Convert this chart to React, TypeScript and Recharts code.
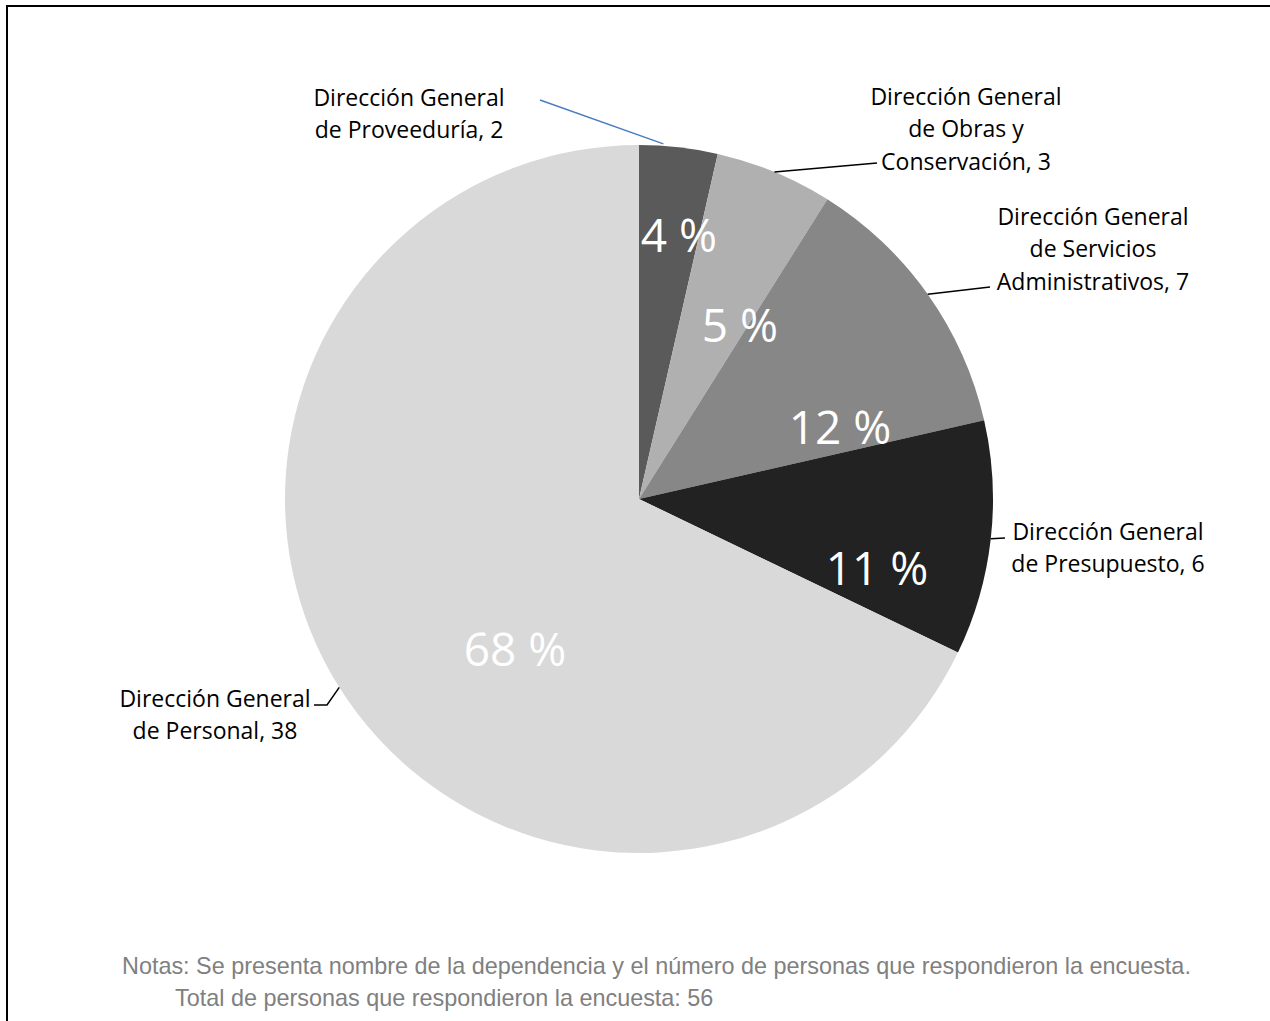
import React from "react";
import { PieChart, Pie, Cell } from "recharts";

const categories = [
  "Dirección General de Proveeduría",
  "Dirección General de Obras y Conservación",
  "Dirección General de Servicios Administrativos",
  "Dirección General de Presupuesto",
  "Dirección General de Personal",
];
const values = [2, 3, 7, 6, 38];
const percentLabels = ["4 %", "5 %", "12 %", "11 %", "68 %"];
const nameLines = [
  ["Dirección General", "de Proveeduría, 2"],
  ["Dirección General", "de Obras y", "Conservación, 3"],
  ["Dirección General", "de Servicios", "Administrativos, 7"],
  ["Dirección General", "de Presupuesto, 6"],
  ["Dirección General", "de Personal, 38"],
];
const notes = [
  "Notas: Se presenta nombre de la dependencia y el número de personas que respondieron la encuesta.",
  "Total de personas que respondieron la encuesta: 56",
];

const COLORS = ["#5a5a5a", "#b0b0b0", "#878787", "#222222", "#d9d9d9"];

// label layout, offsets from pie center (px)
const PCT_OFFSET = [
  [40, -265],
  [101, -175],
  [201, -73],
  [238, 68],
  [-124, 149],
];
const TEXT_CENTER = [
  [-230, -386],
  [327, -371],
  [454, -251],
  [469, 48],
  [-424, 215],
];
const LEADER_ANGLE_SHIFT = [2.5, 0, 0, 0, 0];
const LEADER_RADIUS_EXTRA = [2, 0, 0, 0, 0];
const LEADER_POINTS = [
  [[-99, -399]],
  [[238, -336]],
  [[351, -212]],
  [[366, 39]],
  [[-312, 206], [-325, 206]],
];
const LEADER_COLORS = ["#4a7cc0", "#000", "#000", "#000", "#000"];

const data = categories.map((name, i) => ({ name, value: values[i] }));

const RAD = Math.PI / 180;
const FONT = "'Open Sans', Carlito, Lato, sans-serif";

const renderLabel = (props: any) => {
  const { cx, cy, midAngle, outerRadius, index } = props;
  const a = (midAngle + LEADER_ANGLE_SHIFT[index]) * RAD;
  const r = outerRadius + LEADER_RADIUS_EXTRA[index];
  const sx = cx + r * Math.cos(a);
  const sy = cy - r * Math.sin(a);
  const pts = [[sx, sy], ...LEADER_POINTS[index].map(([dx, dy]) => [cx + dx, cy + dy])];
  const [tx, ty] = TEXT_CENTER[index];
  const lines = nameLines[index];
  const lh = 32.5;
  const y0 = cy + ty - ((lines.length - 1) * lh) / 2;
  return (
    <g key={`lbl-${index}`}>
      <polyline
        points={pts.map((p) => p.join(",")).join(" ")}
        fill="none"
        stroke={LEADER_COLORS[index]}
        strokeWidth={1.5}
      />
      <text
        x={cx + PCT_OFFSET[index][0]}
        y={cy + PCT_OFFSET[index][1]}
        fill="#ffffff"
        textAnchor="middle"
        dominantBaseline="central"
        style={{ fontFamily: FONT, fontSize: 46 }}
      >
        {percentLabels[index]}
      </text>
      {lines.map((ln, k) => (
        <text
          key={k}
          x={cx + tx}
          y={y0 + k * lh}
          fill="#000"
          textAnchor="middle"
          dominantBaseline="central"
          style={{ fontFamily: FONT, fontSize: 23 }}
        >
          {ln}
        </text>
      ))}
    </g>
  );
};

export default function App() {
  return (
    <div
      style={{
        position: "absolute",
        left: 0,
        top: 0,
        width: 1270,
        height: 1021,
        overflow: "hidden",
        background: "#fff",
      }}
    >
      <div
        style={{
          position: "absolute",
          left: 6,
          top: 5,
          width: 1400,
          height: 1200,
          borderLeft: "2px solid #000",
          borderTop: "2px solid #000",
        }}
      />
      <div style={{ position: "absolute", left: 0, top: 0 }}>
        <PieChart width={1270} height={1021} margin={{ top: 0, right: 0, bottom: 0, left: 0 }}>
          <Pie
            data={data}
            dataKey="value"
            nameKey="name"
            cx={639}
            cy={499}
            outerRadius={354}
            startAngle={90}
            endAngle={-270}
            stroke="none"
            isAnimationActive={false}
            label={renderLabel}
            labelLine={false}
          >
            {data.map((d, i) => (
              <Cell key={d.name} fill={COLORS[i]} />
            ))}
          </Pie>
        </PieChart>
      </div>
      <div
        style={{
          position: "absolute",
          left: 122,
          top: 950,
          fontFamily: "'Liberation Sans', Arial, sans-serif",
          fontSize: 23.4,
          color: "#808080",
          lineHeight: "32px",
          whiteSpace: "pre",
        }}
      >
        <div>{notes[0]}</div>
        <div style={{ paddingLeft: 53 }}>{notes[1]}</div>
      </div>
    </div>
  );
}
